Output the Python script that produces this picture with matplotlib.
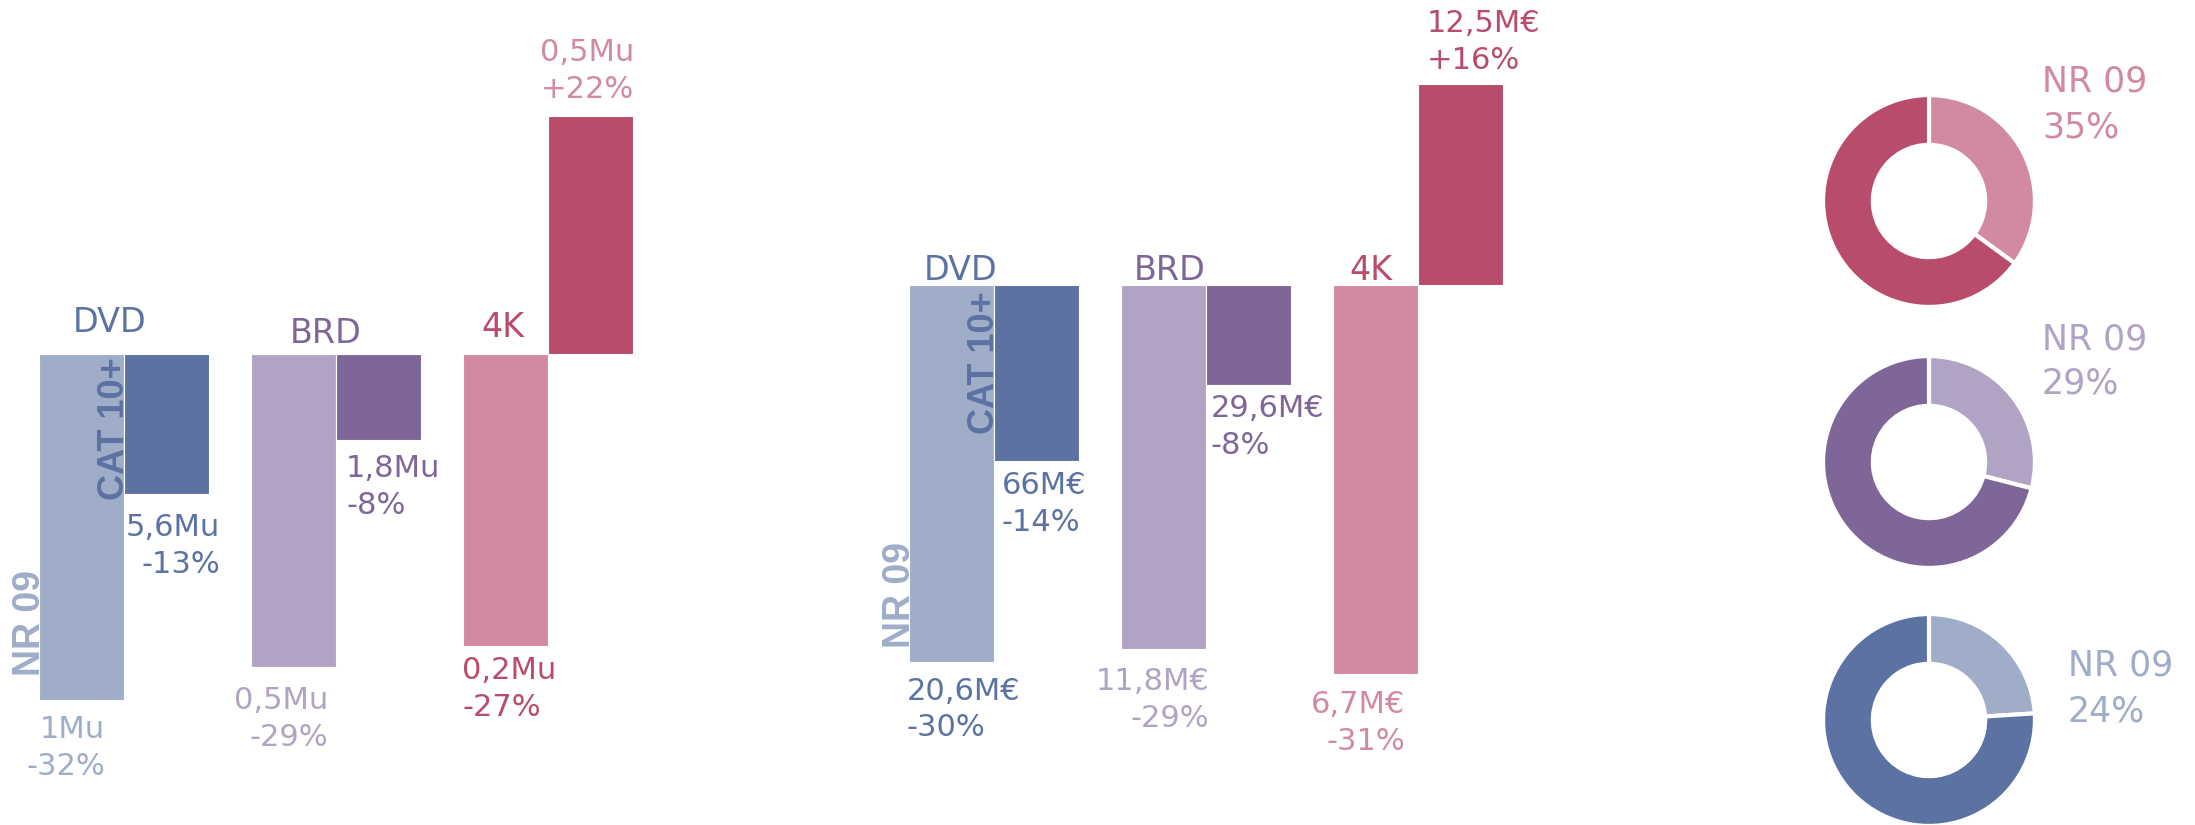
import numpy as np
import matplotlib
matplotlib.use("Agg")
import matplotlib.pyplot as plt

# ---- data ----
formats = ["DVD", "BRD", "4K"]

# left panel: units (Mu)
units_nr = ["1Mu", "0,5Mu", "0,2Mu"]
units_nr_pct = [-32, -29, -27]
units_cat = ["5,6Mu", "1,8Mu", "0,5Mu"]
units_cat_pct = [-13, -8, 22]

# middle panel: value (M€)
value_nr = ["20,6M€", "11,8M€", "6,7M€"]
value_nr_pct = [-30, -29, -31]
value_cat = ["66M€", "29,6M€", "12,5M€"]
value_cat_pct = [-14, -8, 16]

# donuts, top to bottom
donut_formats = ["4K", "BRD", "DVD"]
donut_label = "NR 09"
nr_share = [35, 29, 24]

LIGHT = {"DVD": "#9fadc8", "BRD": "#b1a3c3", "4K": "#d18a9f"}
DARK = {"DVD": "#5b72a2", "BRD": "#7e6699", "4K": "#b84c6a"}

W, H = 2195, 825
plt.rcParams["font.family"] = ["DejaVu Sans"]
fig = plt.figure(figsize=(W / 100, H / 100), dpi=100)


def px_axes(x0, y0, x1, y1):
    return fig.add_axes([x0 / W, 1 - y1 / H, (x1 - x0) / W, (y1 - y0) / H])


def two_lines(ax, x, y, top, bottom, color, ha, dx, dy, size=22, pitch=37):
    for k, s in enumerate([top, bottom]):
        ax.annotate(s, (x, y), xytext=(dx, dy - k * pitch), textcoords="offset pixels",
                    ha=ha, va="baseline", color=color, fontsize=size,
                    annotation_clip=False)


def bar_panel(ax, nr_pct, cat_pct, nr_txt, cat_txt, lay):
    x = np.arange(len(formats))
    w = 0.4
    ax.bar(x - w / 2, nr_pct, w, color=[LIGHT[f] for f in formats],
           edgecolor="white", linewidth=0.8)
    ax.bar(x + w / 2, cat_pct, w, color=[DARK[f] for f in formats],
           edgecolor="white", linewidth=0.8)

    for i, f in enumerate(formats):
        dx, up = lay["head"][i]
        ax.annotate(f, (x[i], 0), xytext=(dx, up), textcoords="offset pixels",
                    ha="center", va="baseline", color=DARK[f], fontsize=24)

        ha, dx, dy = lay["nr"][i]
        two_lines(ax, x[i], nr_pct[i], nr_txt[i], f"{nr_pct[i]:+d}%",
                  lay["nr_col"][i], ha, dx, dy)
        ha, dx, dy = lay["cat"][i]
        two_lines(ax, x[i], cat_pct[i], cat_txt[i], f"{cat_pct[i]:+d}%",
                  lay["cat_col"][i], ha, dx, dy)

    # vertical bold tags on the DVD group
    ax.annotate("CAT 10+", (x[0], 0), xytext=(0, lay["cat_tag"]), textcoords="offset pixels",
                ha="right", va="baseline", rotation=90, rotation_mode="anchor",
                color=DARK["DVD"], fontsize=26, fontweight="bold",
                family="Liberation Sans")
    ax.annotate("NR 09", (x[0] - w, nr_pct[0]), xytext=(1, lay["nr_tag"]),
                textcoords="offset pixels", ha="left", va="baseline",
                rotation=90, rotation_mode="anchor", color=LIGHT["DVD"],
                fontsize=27, fontweight="bold", family="Liberation Sans")
    ax.axis("off")


# left panel (units)
ax1 = px_axes(0, 0, 700, H)
ax1.set_xlim(-124 / 212, (700 - 124) / 212)
ax1.set_ylim((354 - H) / 10.8, 354 / 10.8)
bar_panel(ax1, units_nr_pct, units_cat_pct, units_nr, units_cat, {
    "head": [(-14, 22), (-10, 11), (-45, 17)],
    "nr": [("right", -19, -38), ("right", -8, -42), ("left", -86, -33)],
    "cat": [("right", 96, -42), ("left", 10, -37), ("right", 86, 55)],
    "nr_col": [LIGHT["DVD"], LIGHT["BRD"], DARK["4K"]],
    "cat_col": [DARK["DVD"], DARK["BRD"], LIGHT["4K"]],
    "cat_tag": -3, "nr_tag": 24,
})

# middle panel (value)
ax2 = px_axes(860, 0, 1600, H)
ax2.set_xlim((860 - 994) / 212, (1600 - 994) / 212)
ax2.set_ylim((285 - H) / 12.55, 285 / 12.55)
bar_panel(ax2, value_nr_pct, value_cat_pct, value_nr, value_cat, {
    "head": [(-33, 5), (-36, 5), (-47, 5)],
    "nr": [("left", -87, -38), ("right", 3, -41), ("right", -13, -39)],
    "cat": [("left", 8, -33), ("left", 5, -32), ("left", 9, 52)],
    "nr_col": [DARK["DVD"], LIGHT["BRD"], LIGHT["4K"]],
    "cat_col": [DARK["DVD"], DARK["BRD"], DARK["4K"]],
    "cat_tag": -6, "nr_tag": 13,
})

# donuts
cx, r = 1929, 107
centers = [201, 462, 720]
lab_off = [(113, 109), (113, 113), (139, 44)]
for f, s, cy, (dx, dy) in zip(donut_formats, nr_share, centers, lab_off):
    ax = px_axes(cx - r, cy - r, cx + r, cy + r)
    ax.pie([s, 100 - s], colors=[LIGHT[f], DARK[f]], startangle=90, counterclock=False,
           radius=1, wedgeprops=dict(width=0.47, edgecolor="white", linewidth=3))
    ax.set_xlim(-1.01, 1.01)
    ax.set_ylim(-1.01, 1.01)
    ax.axis("off")
    two_lines(ax, 0, 0, donut_label, f"{s}%", LIGHT[f], "left", dx, dy, size=25, pitch=45)

fig.savefig("out.png", dpi=100)
